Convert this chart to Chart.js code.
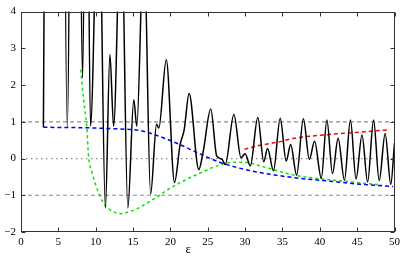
<!DOCTYPE html>
<html>
<head>
<meta charset="utf-8">
<title>epsilon</title>
<script src="https://cdn.jsdelivr.net/npm/chart.js"></script>
<style>
    html, body { margin: 0; padding: 0; background: #fff; }
</style>
</head>
<body>
<canvas id="chart" width="407" height="257"></canvas>
<script>
    // axis ranges
    const xMin = 0, xMax = 50, xStep = 5;
    const yMin = -2, yMax = 4, yStep = 1;
    const xTitle = 'ε';

    // black curve (peaks above 4 are cut off by the frame)
    const blackX = [3.0, 4.6, 6.2, 7.2, 8.25, 8.75, 9.3, 10.4, 11.3, 11.9, 12.4, 13.4, 14.3, 15.1, 15.5, 16.45,
        17.35, 18.15, 18.45, 19.45, 20.55, 21.3, 21.85, 22.5, 23.8, 24.4, 25.4, 26.2, 26.9, 27.35, 28.5,
        29.45, 30.0, 30.7, 31.7, 32.5, 33.0, 33.8, 34.7, 35.5, 36.1, 36.9, 37.8, 38.6, 39.3, 40.2, 40.95,
        41.7, 42.45, 43.3, 44.1, 44.85, 45.65, 46.4, 47.2, 47.95, 48.75, 49.5, 50.0];
    const blackY = [0.85, 60, 0.87, 30, 2.2, 12, 0.88, 8, -1.35, 2.83, 0.88, 7, -1.35, 1.6, 0.88, 6,
        -0.97, 0.93, 0.83, 2.69, -0.65, 0.38, 0.79, 1.77, -0.3, 0.2, 1.35, 0.07, -0.02, -0.16, 1.2,
        0.02, 0.13, -0.2, 1.12, -0.09, 0.27, -0.33, 1.1, -0.07, 0.38, -0.45, 1.08, -0.02, 0.47, -0.54, 1.05,
        -0.41, 0.55, -0.59, 1.05, -0.56, 0.64, -0.64, 1.05, -0.6, 0.68, -0.7, 0.42];

    // blue dashed
    const blueX = [3, 8, 11.5, 14.6, 16, 18, 19.1, 20.7, 21.7, 23.6, 26.7, 29.8, 32, 33.4, 36.5, 41, 45.4, 49.8];
    const blueY = [0.85, 0.84, 0.82, 0.79, 0.76, 0.64, 0.56, 0.43, 0.34, 0.16, -0.11, -0.29, -0.38, -0.43, -0.52, -0.61, -0.7, -0.76];

    // green dashed
    const greenX = [8.0, 8.35, 8.8, 9.05, 9.5, 10.3, 11.0, 11.8, 13.4, 14.6, 15.7, 18, 20.2, 23.6, 26.7, 28.5, 30.2, 32, 36.5, 41, 45.4, 48.3];
    const greenY = [2.42, 1.65, 0.88, 0.05, -0.38, -0.88, -1.2, -1.38, -1.5, -1.44, -1.35, -1.07, -0.78, -0.43, -0.17, -0.1, -0.11, -0.2, -0.45, -0.57, -0.66, -0.72];

    // red dashed
    const redX = [29.9, 32, 34.5, 36.5, 41, 45.4, 49.2];
    const redY = [0.25, 0.36, 0.45, 0.55, 0.65, 0.72, 0.78];

    // gray reference levels
    const refLevels = [1, 0, -1];
    const refDash = [[4, 3], [1.5, 3.5], [4, 3]];

    const pts = (xs, ys) => xs.map((x, i) => ({ x: x, y: ys[i] }));

    const serif = '"Liberation Serif", "DejaVu Serif", serif';

    const refSets = refLevels.map((v, i) => ({
        data: [{ x: xMin, y: v }, { x: xMax, y: v }],
        borderColor: '#8c8c8c',
        borderWidth: 1.2,
        borderDash: refDash[i],
        pointRadius: 0
    }));

    // frame box, inward ticks and axis title
    const framePlugin = {
        id: 'frame',
        afterDatasetsDraw(chart) {
            const { ctx, chartArea: a, scales } = chart;
            const sx = scales.x, sy = scales.y;
            const L = Math.round(a.left) + 0.5, R = Math.round(a.right) - 0.5;
            const T = Math.round(a.top) + 0.5, B = Math.round(a.bottom) - 0.5;
            ctx.save();
            ctx.strokeStyle = '#333';
            ctx.lineWidth = 1;
            ctx.strokeRect(L, T, R - L, B - T);
            ctx.beginPath();
            sx.ticks.forEach(t => {
                const px = Math.round(sx.getPixelForValue(t.value)) + 0.5;
                ctx.moveTo(px, B); ctx.lineTo(px, B - 4);
                ctx.moveTo(px, T); ctx.lineTo(px, T + 4);
            });
            sy.ticks.forEach(t => {
                const py = Math.round(sy.getPixelForValue(t.value)) + 0.5;
                ctx.moveTo(L, py); ctx.lineTo(L + 4, py);
                ctx.moveTo(R, py); ctx.lineTo(R - 4, py);
            });
            ctx.stroke();
            ctx.fillStyle = '#000';
            ctx.font = '13px ' + serif;
            ctx.textAlign = 'center';
            ctx.textBaseline = 'middle';
            ctx.fillText(xTitle, sx.getPixelForValue(22.4), a.bottom + 18);
            ctx.restore();
        }
    };

    new Chart(document.getElementById('chart'), {
        type: 'line',
        data: {
            datasets: [
                {
                    data: pts(blackX, blackY),
                    borderColor: '#000',
                    borderWidth: 1.5,
                    cubicInterpolationMode: 'monotone',
                    pointRadius: 0
                },
                {
                    data: pts(blueX, blueY),
                    borderColor: '#0000ff',
                    borderWidth: 1.5,
                    borderDash: [4, 3],
                    cubicInterpolationMode: 'monotone',
                    pointRadius: 0
                },
                {
                    data: pts(greenX, greenY),
                    borderColor: '#00e600',
                    borderWidth: 1.5,
                    borderDash: [3, 3],
                    cubicInterpolationMode: 'monotone',
                    pointRadius: 0
                },
                {
                    data: pts(redX, redY),
                    borderColor: '#ff0000',
                    borderWidth: 1.5,
                    borderDash: [4, 3],
                    cubicInterpolationMode: 'monotone',
                    pointRadius: 0
                },
                ...refSets
            ]
        },
        options: {
            responsive: false,
            animation: false,
            layout: { padding: { top: 10, right: 12.5, left: 0, bottom: 0 } },
            plugins: {
                legend: { display: false },
                tooltip: { enabled: false }
            },
            scales: {
                x: {
                    type: 'linear',
                    min: xMin,
                    max: xMax,
                    grid: { display: false, drawTicks: false },
                    border: { display: false },
                    ticks: {
                        stepSize: xStep,
                        maxRotation: 0,
                        padding: 4,
                        color: '#000',
                        font: { family: serif, size: 11 }
                    },
                    afterFit: s => { s.height = 25; }
                },
                y: {
                    type: 'linear',
                    min: yMin,
                    max: yMax,
                    grid: { display: false, drawTicks: false },
                    border: { display: false },
                    ticks: {
                        stepSize: yStep,
                        padding: 5,
                        color: '#000',
                        font: { family: serif, size: 11 },
                        callback: v => String(v).replace('-', '\u2212')
                    },
                    afterFit: s => { s.width = 21; }
                }
            }
        },
        plugins: [framePlugin]
    });
</script>
</body>
</html>
